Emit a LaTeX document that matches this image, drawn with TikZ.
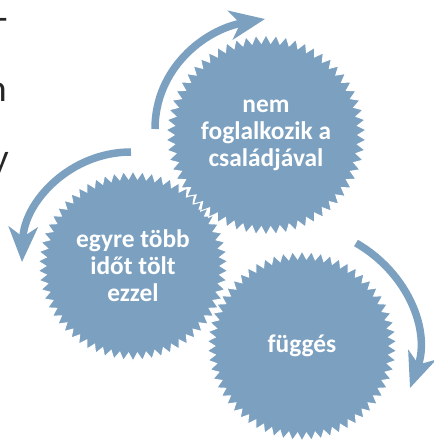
\documentclass[tikz,border=0pt]{standalone}
\usepackage{fontspec}
\setmainfont{Carlito}
\usetikzlibrary{shapes.geometric,arrows.meta}
\definecolor{burstblue}{RGB}{123,160,192}
\tikzset{
	burst/.style={star, star points=62, star point ratio=1.09, minimum size=190bp, fill=burstblue, draw=white, line width=1pt, text=white, font=\bfseries\fontsize{25.5}{27}\selectfont, align=center, inner sep=0pt},
	cyclearrow/.style={draw=burstblue, line width=7.5bp, -{Stealth[length=35bp,width=29bp,inset=10bp]}},
	cutword/.style={anchor=base east, inner sep=0pt, text=black!85, font=\fontsize{38}{40}\selectfont}
}
\begin{document}
\begin{tikzpicture}[x=1bp,y=1bp]
	\useasboundingbox (0,0) rectangle (434,-441);
	\clip (0,0) rectangle (434,-441);

	\node [cutword] (w1) at (8, -31) {-};
	\node [cutword] (w2) at (7, -102) {n};
	\node [cutword] (w3) at (9, -171) {y};

	\coordinate (a1) at (155, -129);
	\coordinate (a2) at (265, -19);
	\coordinate (b1) at (131, -152);
	\coordinate (b2) at (22, -262);
	\coordinate (c1) at (356, -243);
	\coordinate (c2) at (410, -388);

	\draw [cyclearrow] (a1) to [out=90, in=190] (a2);
	\draw [cyclearrow] (b1) to [out=180, in=88] (b2);
	\draw [cyclearrow] (c1) to [out=-30, in=70] (c2);

	\node [burst] (fugges) at (302, -346) {függés};
	\node [burst] (ido) at (133, -266) {egyre több\\időt tölt\\ezzel};
	\node [burst] (csalad) at (266, -135) {nem\\foglalkozik a\\családjával};
\end{tikzpicture}
\end{document}
